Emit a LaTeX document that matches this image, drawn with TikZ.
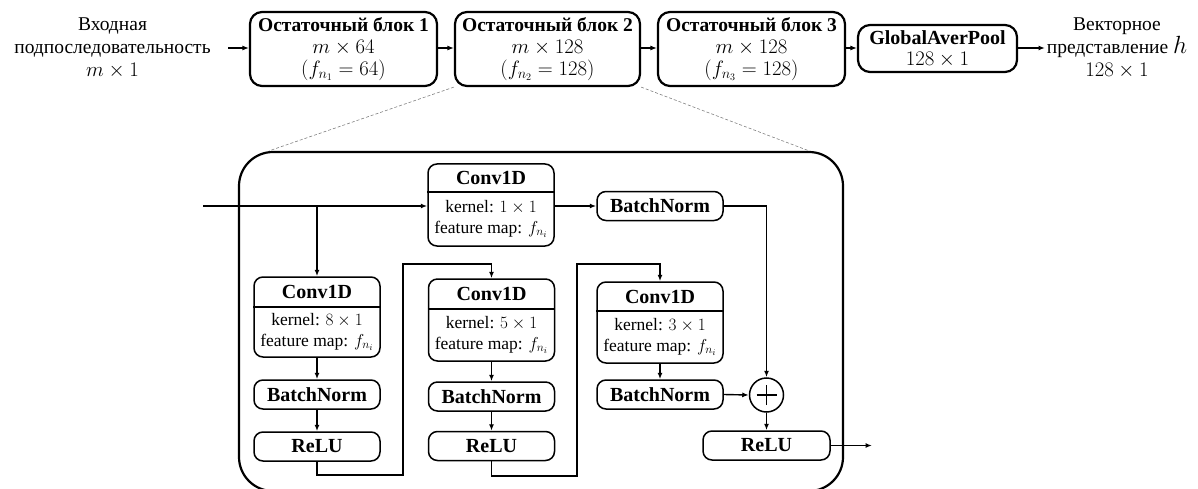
\documentclass[tikz,border=0pt]{standalone}
\usepackage{fontspec}
\setmainfont{Liberation Serif}
\usetikzlibrary{arrows.meta}

% residual block, one Conv1D box with a header and a body
\newcommand{\convbox}[6]{%
  % #1 name, #2 centre x, #3 top, #4 bottom, #5 split line, #6 kernel
  \node[inbox, minimum width=126pt, minimum height={(#4-#3)*1pt}] (#1) at (#2,{(#3+#4)/2}) {};
  \draw[line width=1.3pt] (#1.west |- 0,#5) -- (#1.east |- 0,#5);
  \node[hdr] (#1-h) at (#2,{(#3+#5)/2}) {Conv1D};
  \node[body] (#1-b) at (#2,{(#5+#4)/2}) {kernel: $#6$\\feature map: $f_{n_i}$};
}

\begin{document}
\begin{tikzpicture}[
  x=1pt, y=-1pt,
  topbox/.style={draw, line width=2.2pt, rounded corners=12pt, align=center,
    inner sep=0pt, font=\fontsize{19.5}{22}\selectfont},
  side/.style={align=center, inner sep=0pt, font=\fontsize{19.5}{23}\selectfont},
  inbox/.style={draw, line width=1.5pt, rounded corners=9pt, inner sep=0pt},
  opbox/.style={inbox, minimum width=126pt, minimum height=29pt,
    font=\fontsize{20}{22}\selectfont\bfseries},
  hdr/.style={inner sep=0pt, font=\fontsize{20}{22}\selectfont\bfseries},
  body/.style={inner sep=0pt, align=center, font=\fontsize{17.5}{21}\selectfont},
  arr/.style={line width=1.4pt, -{Latex[length=6.5pt,width=5pt]}},
  zoomline/.style={densely dashed, gray, line width=0.6pt},
]
\useasboundingbox (0,0) rectangle (1198,489);

% ---- top row ----
\node[side] (in) at (112.5,48) {Входная\\подпоследовательность\\$m\times 1$};
\node[topbox, minimum width=187pt, minimum height=74pt] (b1) at (343.5,49)
  {\textbf{Остаточный блок 1}\\$m\times 64$\\$(f_{n_1}=64)$};
\node[topbox, minimum width=185pt, minimum height=74pt] (b2) at (547.5,49)
  {\textbf{Остаточный блок 2}\\$m\times 128$\\$(f_{n_2}=128)$};
\node[topbox, minimum width=187pt, minimum height=74pt] (b3) at (751.5,49)
  {\textbf{Остаточный блок 3}\\$m\times 128$\\$(f_{n_3}=128)$};
\node[topbox, minimum width=159pt, minimum height=47pt,
  font=\fontsize{20}{21}\selectfont] (gap) at (937.5,48.5)
  {\textbf{GlobalAverPool}\\$128\times 1$};
\node[side] (out) at (1117,48)
  {Векторное\\представление {\fontsize{25}{23}\selectfont$h$}\\$128\times 1$};

\draw[arr] (228,48) -- (b1.west |- 0,48);
\draw[arr] (b1.east |- 0,48) -- (b2.west |- 0,48);
\draw[arr] (b2.east |- 0,48) -- (b3.west |- 0,48);
\draw[arr] (b3.east |- 0,48) -- (gap.west |- 0,48);
\draw[arr] (gap.east |- 0,48) -- (1045,48);

% ---- expanded residual block ----
\node[draw, line width=2.2pt, rounded corners=34pt, minimum width=604pt,
  minimum height=339pt, inner sep=0pt] (res) at (541,321.5) {};
\draw[zoomline] (b2.south west) -- ([xshift=31pt]res.north west);
\draw[zoomline] (b2.south east) -- ([xshift=-35pt]res.north east);

\convbox{c0}{491}{164}{246}{192}{1\times 1}
\convbox{c1}{317}{277}{357}{307}{8\times 1}
\convbox{c2}{491.5}{279}{361}{309}{5\times 1}
\convbox{c3}{660}{282}{363}{311}{3\times 1}

\node[opbox] (bn0) at (660,206) {BatchNorm};
\node[opbox] (bn1) at (317,394.5) {BatchNorm};
\node[opbox] (bn2) at (491.5,396.5) {BatchNorm};
\node[opbox] (bn3) at (660,394.5) {BatchNorm};
\node[opbox] (r1) at (317,446.5) {ReLU};
\node[opbox] (r2) at (491.5,446) {ReLU};
\node[opbox, minimum width=127pt] (r3) at (766.5,445.5) {ReLU};
\node[draw, circle, line width=1.5pt, minimum size=34pt, inner sep=0pt] (plus) at (766.5,395) {};
\draw[line width=1.8pt] ([xshift=-10pt]plus.center) -- ([xshift=10pt]plus.center)
  ([yshift=-10pt]plus.center) -- ([yshift=10pt]plus.center);

\coordinate (src) at (203,206);
\coordinate (fork) at (317,206);
\coordinate (fin) at (872,445.5);

% shortcut branch
\draw[arr] (src) -- (c0.west |- src);
\draw[arr] (c0.east |- bn0) -- (bn0.west);
\draw[arr] (bn0.east) -| (plus.north);

% main branch
\draw[arr] (fork) -- (c1.north);
\draw[arr] (c1.south) -- (bn1.north);
\draw[arr] (bn1.south) -- (r1.north);
\draw[arr] (r1.south) -- (317,475) -- (403,475) -- (403,264) -| (c2.north);
\draw[arr] (c2.south) -- (bn2.north);
\draw[arr] (bn2.south) -- (r2.north);
\draw[arr] (r2.south) -- (491.5,476) -- (577,476) -- (577,264) -| (c3.north);
\draw[arr] (c3.south) -- (bn3.north);
\draw[arr] (bn3.east) -- (plus.west);
\draw[arr] (plus.south) -- (r3.north);
\draw[arr] (r3.east) -- (fin);
\end{tikzpicture}
\end{document}
